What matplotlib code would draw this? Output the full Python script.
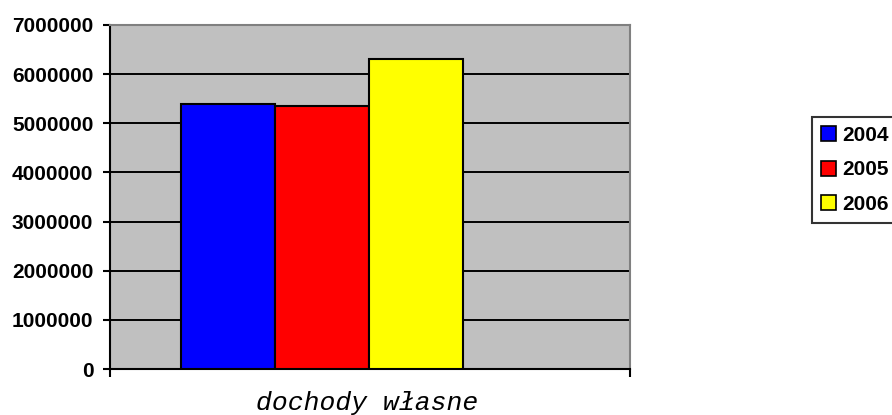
import numpy as np
import matplotlib
matplotlib.use("Agg")
import matplotlib.pyplot as plt

plt.rcParams['font.family'] = ['Liberation Sans', 'DejaVu Sans']

# data
years = ["2004", "2005", "2006"]
values = [5400000, 5360000, 6310000]
colors = ["#0000FF", "#FF0000", "#FFFF00"]
category = "dochody własne"
yticks = np.arange(0, 7000001, 1000000)

W, H = 892, 415
fig = plt.figure(figsize=(W/100, H/100), dpi=100)
ax = fig.add_axes([110/W, 1-369/H, 520/W, 344/H])
ax.set_facecolor("#C0C0C0")

# bar group layout inside the single category
bw = 94/520
start = (181-110)/520
for i, (y, v, c) in enumerate(zip(years, values, colors)):
    ax.bar(start + bw*(i+0.5), v, width=bw, color=c, edgecolor="black",
           linewidth=1.5, label=y, zorder=3)

ax.set_xlim(0, 1)
ax.set_ylim(0, 7000000)
ax.set_yticks(yticks)
ax.set_yticklabels([str(t) for t in yticks], fontweight="bold", fontsize=15)
ax.set_xticks([0, 1])
ax.set_xticklabels(["", ""])
ax.tick_params(axis="y", direction="out", length=5, width=1.5, pad=7)
ax.tick_params(axis="x", direction="out", length=6, width=1.5)
ax.grid(axis="y", color="black", linewidth=1.4, zorder=1)
ax.set_axisbelow(True)

for s in ["left", "bottom"]:
    ax.spines[s].set_color("black")
    ax.spines[s].set_linewidth(1.5)
for s in ["top", "right"]:
    ax.spines[s].set_color("#808080")
    ax.spines[s].set_linewidth(1.5)

fig.text(367/W, 1-410/H, category, family="Liberation Mono", style="italic",
         fontsize=19, ha="center", va="baseline")

leg = fig.legend(loc="upper left", bbox_to_anchor=(812/W, 1-117/H),
                 prop={"family": "Liberation Sans", "weight": "bold", "size": 15},
                 frameon=True, fancybox=False, shadow=False, borderaxespad=0,
                 handlelength=0.72, handleheight=0.72, handletextpad=0.3,
                 labelspacing=0.75, borderpad=0.42)
leg.get_frame().set_edgecolor("black")
leg.get_frame().set_linewidth(1.5)
for p in leg.get_patches():
    p.set_linewidth(1.2)

fig.savefig("out.png", dpi=100)
